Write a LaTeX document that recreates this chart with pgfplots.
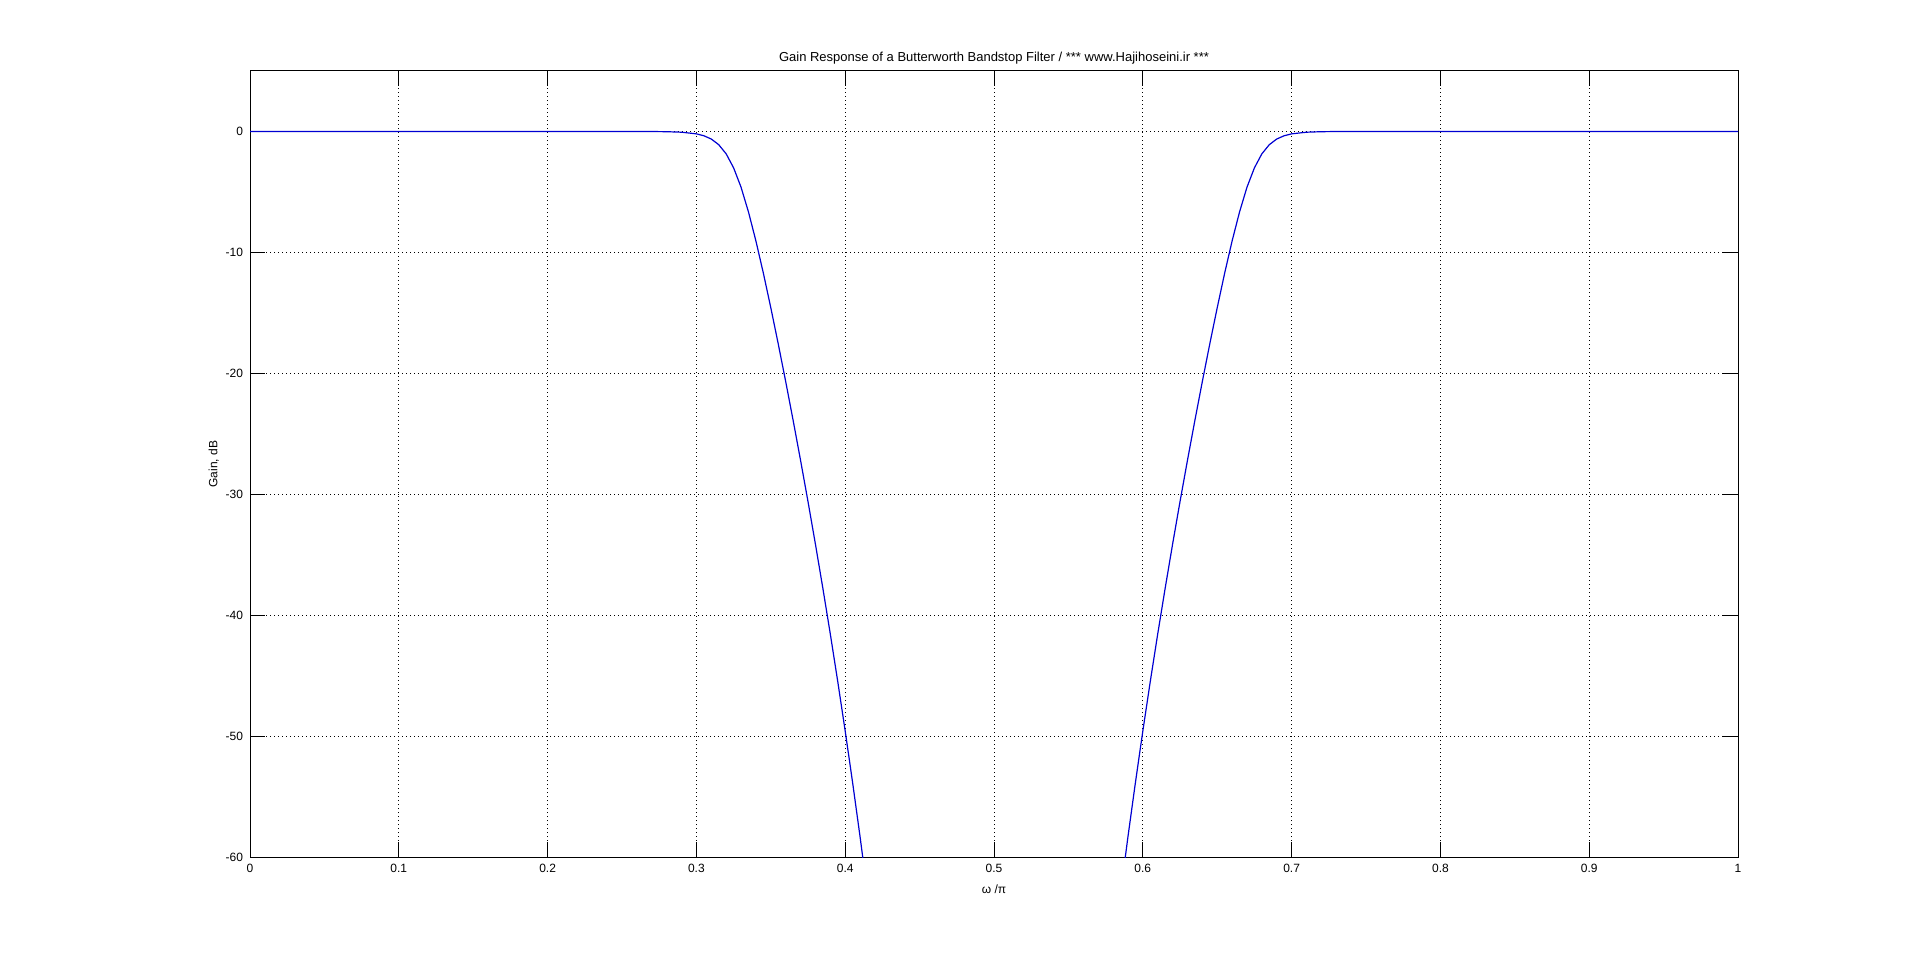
\documentclass[border=0pt]{standalone}
\usepackage{fontspec}
\setmainfont{Liberation Sans}
\usepackage{pgfplots}
\pgfplotsset{compat=1.18}
\begin{document}
\begin{tikzpicture}[x=1pt,y=1pt]
\path[use as bounding box, fill=white] (0,0) rectangle (960,482);
\begin{axis}[
  at={(125pt,53.5pt)}, anchor=south west,
  width=744pt, height=393pt, scale only axis,
  xmin=0, xmax=1, ymin=-60, ymax=5,
  xtick={0,0.1,0.2,0.3,0.4,0.5,0.6,0.7,0.8,0.9,1},
  xticklabels={0,0.1,0.2,0.3,0.4,0.5,0.6,0.7,0.8,0.9,1},
  ytick={-60,-50,-40,-30,-20,-10,0},
  yticklabels={-60,-50,-40,-30,-20,-10,0},
  tick align=inside, major tick length=7.5pt,
  tick style={black, line width=0.5pt},
  axis line style={black, line width=0.5pt},
  grid=major,
  major grid style={black, line width=0.45pt, dash pattern=on 0.5pt off 1.5pt},
  tick label style={font=\fontsize{6}{7}\selectfont},
  label style={font=\fontsize{6}{7}\selectfont},
  xlabel style={yshift=0.8pt},
  ylabel style={yshift=-3.5pt},
  title style={font=\fontsize{6.5}{7.5}\selectfont, yshift=-6pt},
  title={Gain Response of a Butterworth Bandstop Filter / *** www.Hajihoseini.ir ***},
  xlabel={ω /π},
  ylabel={Gain, dB},
]
\addplot[color={rgb,255:red,0;green,0;blue,210}, line width=0.6pt] coordinates {
(0,0) (0.25,-0.0006) (0.27,-0.006) (0.28,-0.020) (0.29,-0.062) (0.30,-0.198)
(0.305,-0.354) (0.31,-0.627) (0.315,-1.094) (0.32,-1.851) (0.325,-3.01)
(0.33,-4.61) (0.335,-6.66) (0.34,-9.06) (0.345,-11.72) (0.35,-14.58)
(0.355,-17.57) (0.36,-20.68) (0.365,-23.89) (0.37,-27.20) (0.375,-30.61)
(0.38,-34.14) (0.385,-37.79) (0.39,-41.57) (0.395,-45.50) (0.40,-49.59)
(0.405,-53.87) (0.41,-58.34) (0.415,-63.04)
(0.585,-63.04) (0.59,-58.34) (0.595,-53.87) (0.60,-49.59) (0.605,-45.50)
(0.61,-41.57) (0.615,-37.79) (0.62,-34.14) (0.625,-30.61) (0.63,-27.20)
(0.635,-23.89) (0.64,-20.68) (0.645,-17.57) (0.65,-14.58) (0.655,-11.72)
(0.66,-9.06) (0.665,-6.66) (0.67,-4.61) (0.675,-3.01) (0.68,-1.851)
(0.685,-1.094) (0.69,-0.627) (0.695,-0.354) (0.70,-0.198) (0.71,-0.062)
(0.72,-0.020) (0.73,-0.006) (0.75,-0.0006) (1,0)
};
\end{axis}
\end{tikzpicture}
\end{document}
